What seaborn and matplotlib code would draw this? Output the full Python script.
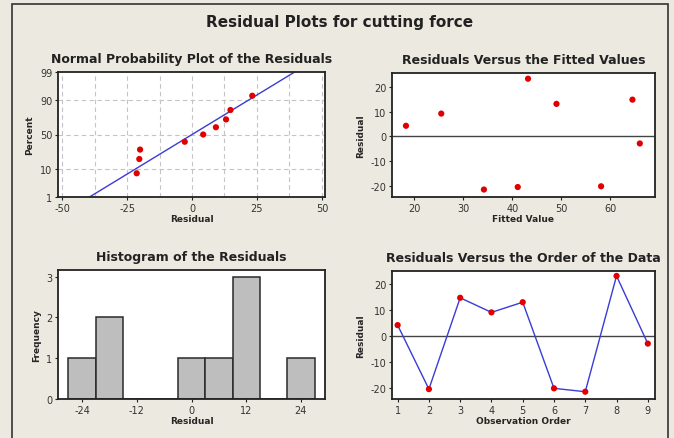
from statistics import NormalDist

import matplotlib.pyplot as plt
import numpy as np
import seaborn as sns
from matplotlib.patches import Rectangle

# residuals listed in observation order, with their fitted values
observation_order = [1, 2, 3, 4, 5, 6, 7, 8, 9]
residuals = [4.3, -20.3, 14.8, 9.2, 13.1, -20.0, -21.3, 23.2, -2.8]
fitted_values = [18.3, 41.1, 64.5, 25.5, 49.0, 58.1, 34.2, 43.2, 66.0]

percent_ticks = [1, 10, 50, 90, 99]
npp_x_ticks = [-50, -25, 0, 25, 50]
hist_x_ticks = [-24, -12, 0, 12, 24]
hist_bins = [-27, -21, -15, -9, -3, 3, 9, 15, 21, 27]

BG = "#ece9e0"
RED = "#e00000"
BLUE = "#3b3bd6"
DARK = "#222222"

sns.set_style("white")
plt.rcParams["font.family"] = ["DejaVu Sans"]
plt.rcParams["axes.unicode_minus"] = False
plt.rcParams["axes.edgecolor"] = DARK
plt.rcParams["axes.linewidth"] = 1.3
plt.rcParams["xtick.color"] = DARK
plt.rcParams["ytick.color"] = DARK
plt.rcParams["xtick.labelcolor"] = "#333333"
plt.rcParams["ytick.labelcolor"] = "#333333"
plt.rcParams["xtick.labelsize"] = 7
plt.rcParams["ytick.labelsize"] = 7
plt.rcParams["xtick.major.size"] = 2.5
plt.rcParams["ytick.major.size"] = 2.5
plt.rcParams["xtick.bottom"] = True
plt.rcParams["ytick.left"] = True
plt.rcParams["xtick.major.pad"] = 1.5
plt.rcParams["ytick.major.pad"] = 1.5

W, H = 674, 439
fig = plt.figure(figsize=(W / 100, H / 100), dpi=100, facecolor=BG)
fig.patches.append(Rectangle((12 / W, -0.02), 656 / W, 1.02 - 5 / H,
                             transform=fig.transFigure, fill=False,
                             edgecolor="#333333", linewidth=1.2))


def add_axes(x0, y0, x1, y1):
    return fig.add_axes([x0 / W, 1 - y1 / H, (x1 - x0) / W, (y1 - y0) / H])


def label(ax, xl, yl, title):
    ax.set_xlabel(xl, fontsize=6.5, fontweight="bold", labelpad=1)
    ax.set_ylabel(yl, fontsize=6.5, fontweight="bold", labelpad=4)
    ax.set_title(title, fontsize=9, fontweight="bold", color="#222222", pad=7)


nd = NormalDist()
z = lambda p: nd.inv_cdf(p / 100.0)

# normal probability plot
ax1 = add_axes(58, 73, 325, 198)
res_sorted = np.sort(residuals)
n = len(res_sorted)
pct = [(i + 1 - 0.3) / (n + 0.4) * 100 for i in range(n)]
mu, sd = np.mean(residuals), np.std(residuals, ddof=1)
line_p = [0.5, 99.5]
line_x = [mu + sd * z(p) for p in line_p]
sns.lineplot(x=line_x, y=[z(p) for p in line_p], ax=ax1, color=BLUE, linewidth=1)
sns.scatterplot(x=res_sorted, y=[z(p) for p in pct], ax=ax1, color=RED,
                s=20, edgecolor="none", zorder=3)
for gx in np.arange(-50, 51, 12.5):
    ax1.axvline(gx, color="#c4c4c4", linestyle=(0, (4, 3)), linewidth=0.8, zorder=0)
for gp in [10, 50, 90]:
    ax1.axhline(z(gp), color="#c4c4c4", linestyle=(0, (4, 3)), linewidth=0.8, zorder=0)
ax1.set_xlim(-51.6, 51.2)
ax1.set_ylim(z(1), z(99))
ax1.set_xticks(npp_x_ticks)
ax1.set_yticks([z(p) for p in percent_ticks])
ax1.set_yticklabels([str(p) for p in percent_ticks])
label(ax1, "Residual", "Percent", "Normal Probability Plot of the Residuals")

# residuals vs fitted values
ax2 = add_axes(392, 74, 655, 198)
ax2.axhline(0, color="#444444", linewidth=1)
sns.scatterplot(x=fitted_values, y=residuals, ax=ax2, color=RED, s=20,
                edgecolor="none", zorder=3)
ax2.set_xlim(15.45, 69.1)
ax2.set_ylim(-24.3, 25.5)
ax2.set_xticks([20, 30, 40, 50, 60])
ax2.set_yticks([-20, -10, 0, 10, 20])
label(ax2, "Fitted Value", "Residual", "Residuals Versus the Fitted Values")

# histogram
ax3 = add_axes(58, 271, 325, 400)
sns.histplot(x=residuals, bins=hist_bins, ax=ax3, color="#bebebe",
             edgecolor="#2a2a2a", linewidth=1.1, alpha=1)
ax3.set_xlim(-29.3, 29.3)
ax3.set_ylim(0, 3.16)
ax3.set_xticks(hist_x_ticks)
ax3.set_yticks([0, 1, 2, 3])
label(ax3, "Residual", "Frequency", "Histogram of the Residuals")

# residuals vs order
ax4 = add_axes(392, 272, 655, 400)
ax4.axhline(0, color="#444444", linewidth=1)
sns.lineplot(x=observation_order, y=residuals, ax=ax4, color=BLUE, linewidth=1)
sns.scatterplot(x=observation_order, y=residuals, ax=ax4, color=RED, s=20,
                edgecolor="none", zorder=3)
ax4.set_xlim(0.82, 9.23)
ax4.set_ylim(-24.1, 25.1)
ax4.set_xticks(observation_order)
ax4.set_yticks([-20, -10, 0, 10, 20])
label(ax4, "Observation Order", "Residual", "Residuals Versus the Order of the Data")

for ax in (ax1, ax2, ax3, ax4):
    ax.set_facecolor("white")
    for s in ax.spines.values():
        s.set_visible(True)

fig.text(340 / W, 1 - 22 / H, "Residual Plots for cutting force", ha="center",
         va="center", fontsize=11, fontweight="bold", color="#222222")

fig.savefig("out.png", dpi=100, facecolor=BG)
